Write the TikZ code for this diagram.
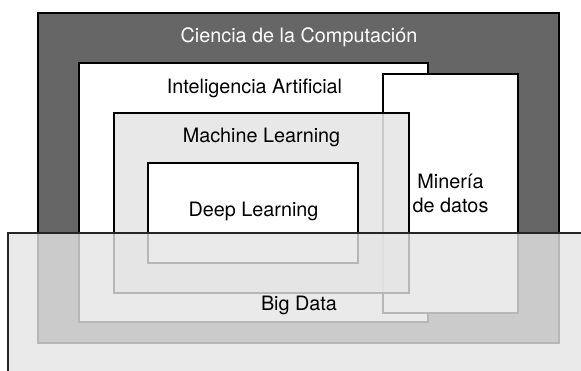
\documentclass[tikz,border=0pt]{standalone}
\usepackage{fontspec}
\setmainfont{TeX Gyre Heros}
\begin{document}
\begin{tikzpicture}[x=1pt,y=-1pt,
  box/.style={draw=black,line width=1.3pt},
  lbl/.style={font=\fontsize{19.8}{24}\selectfont, inner sep=0pt, anchor=base, align=center}]
\useasboundingbox (0,0) rectangle (581,370);
\clip (0,0) rectangle (581,370);
\fill[white] (0,0) rectangle (581,370);
% boxes
\draw[box, fill=black!60] (38,13) coordinate (cs1) rectangle (559,343) coordinate (cs2);
\draw[box, fill=white] (79,63) coordinate (ia1) rectangle (428,322) coordinate (ia2);
\draw[box, fill=white] (383,74) coordinate (md1) rectangle (518,313) coordinate (md2);
\draw[box, fill=black!10, fill opacity=0.88] (114,113) coordinate (ml1) rectangle (409,293) coordinate (ml2);
\draw[box, fill=white] (148,163) coordinate (dl1) rectangle (358,263) coordinate (dl2);
\draw[draw=black!85, line width=1.2pt, fill=black!10, fill opacity=0.8] (8,233) coordinate (bd1) rectangle (600,400) coordinate (bd2);
% labels
\node[lbl, text=white] (tcs) at (299,42) {Ciencia de la Computación};
\node[lbl] (tia) at (254.5,93) {Inteligencia Artificial};
\node[lbl] (tml) at (261.5,142) {Machine Learning};
\node[lbl] (tdl) at (253.5,216) {Deep Learning};
\node[lbl] (tmd) at (450.5,212) {Minería\\de datos};
\node[lbl] (tbd) at (299,310) {Big Data};
\end{tikzpicture}
\end{document}
